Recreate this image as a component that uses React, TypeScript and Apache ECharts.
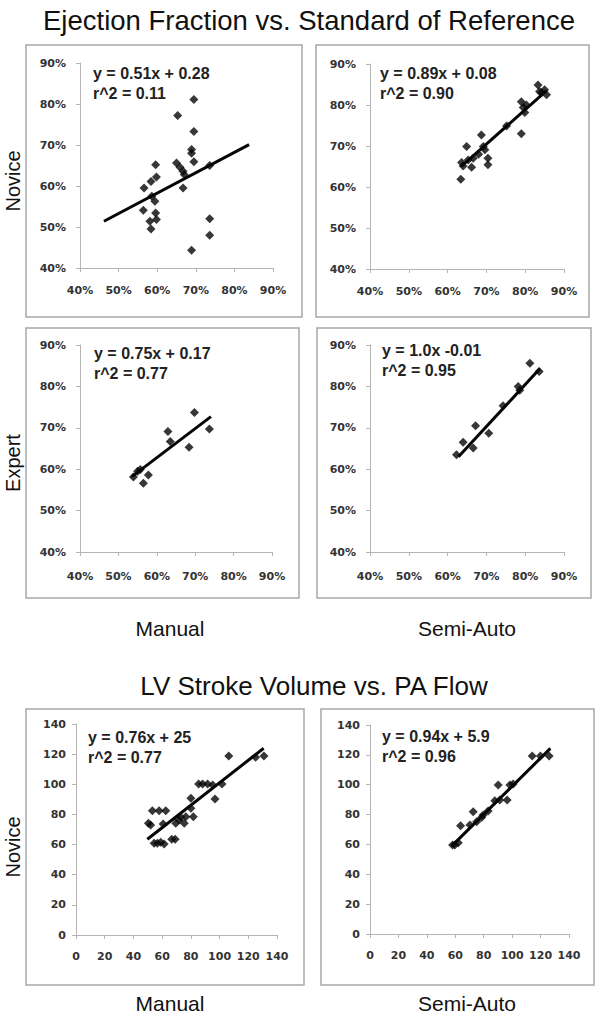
import React, { useEffect, useRef } from "react";
import * as echarts from "echarts";

// ---------- data ----------
const efTickMin = 40;
const efTickMax = 90;
const svTickMin = 0;
const svTickMax = 140;

const efNoviceManual = [
  [56.6, 59.5], [56.4, 54.1], [58.4, 61.1], [59.6, 65.2], [59.8, 62.2], [59.4, 56.3],
  [59.6, 53.4], [59.8, 51.8], [58.1, 51.4], [58.4, 49.5], [58.6, 57.5], [65.3, 77.2],
  [65.0, 65.6], [65.9, 64.6], [66.7, 63.6], [66.7, 59.5], [69.5, 81.1], [69.5, 73.3],
  [68.9, 68.9], [68.9, 68.0], [69.5, 65.9], [68.9, 44.3], [73.6, 65.0], [73.6, 52.0],
  [73.6, 48.0], [67.0, 62.8],
];
const efNoviceManualFit = [[46.2, 51.4], [83.8, 70.1]];

const efNoviceSemi = [
  [63.4, 61.9], [63.6, 66.0], [64.0, 65.1], [64.9, 69.9], [65.3, 66.6], [66.2, 64.8],
  [66.6, 67.0], [68.7, 72.7], [69.2, 69.9], [69.6, 69.1], [70.4, 67.0], [70.4, 65.4],
  [68.0, 68.0], [75.2, 74.9], [79.0, 73.0], [79.0, 80.8], [79.5, 79.4], [79.9, 78.2],
  [80.3, 80.0], [83.3, 84.9], [83.7, 83.3], [84.2, 83.0], [85.0, 83.7], [85.5, 82.5],
];
const efNoviceSemiFit = [[63.5, 65.0], [85.5, 83.5]];

const efExpertManual = [
  [53.9, 58.1], [55.0, 59.5], [55.7, 59.9], [56.5, 56.6], [57.8, 58.6],
  [62.9, 69.1], [63.5, 66.7], [68.4, 65.3], [69.8, 73.7], [73.7, 69.7],
];
const efExpertManualFit = [[53.5, 58.2], [74.1, 72.7]];

const efExpertSemi = [
  [62.3, 63.5], [64.0, 66.5], [66.6, 65.1], [67.2, 70.5], [70.6, 68.7],
  [74.3, 75.3], [78.2, 80.0], [78.6, 79.1], [81.2, 85.6], [83.6, 83.6],
];
const efExpertSemiFit = [[62.8, 63.0], [83.8, 84.3]];

const svNoviceManual = [
  [50.4, 74.1], [52.0, 73.0], [53.2, 82.5], [57.9, 82.5], [62.5, 82.5], [54.4, 60.8],
  [56.7, 60.8], [59.0, 61.5], [61.4, 60.4], [60.7, 73.7], [66.7, 63.5], [69.1, 63.5],
  [69.5, 74.1], [71.8, 76.3], [73.0, 78.1], [75.4, 74.1], [76.5, 78.5], [80.0, 84.1],
  [81.7, 78.5], [80.0, 90.7], [85.4, 100.2], [88.2, 100.2], [91.7, 100.2], [95.2, 99.6],
  [96.8, 90.3], [101.7, 100.2], [106.4, 118.8], [125.1, 117.9], [130.9, 118.8],
];
const svNoviceManualFit = [[49.7, 63.5], [130.7, 123.9]];

const svNoviceSemi = [
  [58.1, 59.6], [59.7, 59.6], [62.1, 61.2], [63.7, 72.5], [72.6, 81.9], [70.3, 73.0],
  [75.0, 75.2], [78.5, 78.1], [79.6, 79.7], [83.1, 82.4], [87.8, 89.3], [90.2, 99.8],
  [91.3, 89.7], [96.5, 89.7], [98.4, 99.8], [100.7, 100.4], [114.1, 119.2], [119.9, 119.2],
  [126.0, 119.2],
];
const svNoviceSemiFit = [[57.4, 58.9], [126.9, 124.3]];

const equations = [
  ["y = 0.51x + 0.28", "r^2 = 0.11"],
  ["y = 0.89x + 0.08", "r^2 = 0.90"],
  ["y = 0.75x + 0.17", "r^2 = 0.77"],
  ["y = 1.0x -0.01", "r^2 = 0.95"],
  ["y = 0.76x + 25", "r^2 = 0.77"],
  ["y = 0.94x + 5.9", "r^2 = 0.96"],
];

const titleTop = "Ejection Fraction vs. Standard of Reference";
const titleBottom = "LV Stroke Volume vs. PA Flow";
const rowLabels = ["Novice", "Expert", "Novice"];
const colLabels = ["Manual", "Semi-Auto"];

// ---------- layout ----------
const grids = [
  { left: 80, top: 63, width: 193, height: 205 },
  { left: 370, top: 64, width: 194, height: 205 },
  { left: 80, top: 345, width: 192, height: 207 },
  { left: 370, top: 345, width: 194, height: 207 },
  { left: 76, top: 724, width: 201, height: 211 },
  { left: 370, top: 725, width: 199, height: 209 },
];
const boxes = [
  { x: 26, y: 45, width: 276, height: 272 },
  { x: 316, y: 45, width: 273, height: 272 },
  { x: 26, y: 328, width: 273, height: 270 },
  { x: 317, y: 328, width: 274, height: 270 },
  { x: 26, y: 709, width: 278, height: 276 },
  { x: 321, y: 709, width: 273, height: 276 },
];
const eqPos = [
  [93, 73], [380, 73], [94, 353], [382, 350], [88, 737], [382, 736],
];
const xLabelMargin = [17, 17, 19, 19, 16, 16];

export default function App() {
  const ref = useRef<HTMLDivElement>(null);
  useEffect(() => {
    if (!ref.current) return;
    const chart = echarts.init(ref.current, undefined, { renderer: "svg" });
    const scatterSets = [efNoviceManual, efNoviceSemi, efExpertManual, efExpertSemi, svNoviceManual, svNoviceSemi];
    const fitSets = [efNoviceManualFit, efNoviceSemiFit, efExpertManualFit, efExpertSemiFit, svNoviceManualFit, svNoviceSemiFit];
    const axisLineStyle = { color: "#b5b5b5", width: 1 };
    const labelStyle = {
      color: "#333",
      fontFamily: "DejaVu Sans",
      fontWeight: "bold" as const,
      fontSize: 11,
    };
    const xAxis = grids.map((_, i) => {
      const isEF = i < 4;
      return {
        type: "value",
        gridIndex: i,
        min: isEF ? efTickMin : svTickMin,
        max: isEF ? efTickMax : svTickMax,
        interval: isEF ? 10 : 20,
        splitLine: { show: false },
        axisLine: { show: true, lineStyle: axisLineStyle },
        axisTick: { show: true, length: 4, lineStyle: axisLineStyle },
        axisLabel: {
          ...labelStyle,
          margin: xLabelMargin[i],
          formatter: isEF ? (v: number) => v + "%" : (v: number) => String(v),
        },
      };
    });
    const yAxis = grids.map((_, i) => {
      const isEF = i < 4;
      return {
        type: "value",
        gridIndex: i,
        min: isEF ? efTickMin : svTickMin,
        max: isEF ? efTickMax : svTickMax,
        interval: isEF ? 10 : 20,
        splitLine: { show: false },
        axisLine: { show: true, lineStyle: axisLineStyle },
        axisTick: { show: true, length: 4, lineStyle: axisLineStyle },
        axisLabel: {
          ...labelStyle,
          margin: isEF ? 14 : 10,
          formatter: isEF ? (v: number) => v + "%" : (v: number) => String(v),
        },
      };
    });
    const series: any[] = [];
    scatterSets.forEach((d, i) => {
      series.push({
        type: "scatter",
        xAxisIndex: i,
        yAxisIndex: i,
        data: d,
        symbol: "diamond",
        symbolSize: 9,
        itemStyle: { color: "#050505" },
        z: 3,
      });
      series.push({
        type: "line",
        xAxisIndex: i,
        yAxisIndex: i,
        data: fitSets[i],
        symbol: "none",
        lineStyle: { color: "#050505", width: 3 },
        z: 4,
      });
    });
    const graphics: any[] = [];
    boxes.forEach((b) => {
      graphics.push({
        type: "rect",
        shape: { x: b.x, y: b.y, width: b.width, height: b.height },
        style: { fill: "none", stroke: "#a8a8a8", lineWidth: 1.5 },
        z: -10,
      });
    });
    const bigText = (text: string, x: number, y: number, size: number, rotation = 0) => ({
      type: "text",
      x,
      y,
      rotation,
      style: {
        text,
        fill: "#111",
        font: `${size}px "Liberation Sans", Arial, sans-serif`,
        align: "center",
        verticalAlign: "middle",
      },
    });
    graphics.push(bigText(titleTop, 309, 20, 27.5));
    graphics.push(bigText(titleBottom, 314, 686, 26));
    graphics.push(bigText(rowLabels[0], 13, 181, 20, Math.PI / 2));
    graphics.push(bigText(rowLabels[1], 13, 463, 20, Math.PI / 2));
    graphics.push(bigText(rowLabels[2], 13, 847, 20, Math.PI / 2));
    graphics.push(bigText(colLabels[0], 170, 628, 21));
    graphics.push(bigText(colLabels[1], 467, 628, 21));
    graphics.push(bigText(colLabels[0], 170, 1003, 21));
    graphics.push(bigText(colLabels[1], 467, 1003, 21));
    equations.forEach((eq, i) => {
      eq.forEach((line, j) => {
        graphics.push({
          type: "text",
          x: eqPos[i][0],
          y: eqPos[i][1] + j * 20,
          style: {
            text: line,
            fill: "#222",
            font: `bold 16px "Liberation Sans", Arial, sans-serif`,
            align: "left",
            verticalAlign: "middle",
          },
        });
      });
    });
    chart.setOption({
      animation: false,
      backgroundColor: "#ffffff",
      grid: grids.map((g) => ({ ...g, containLabel: false, outerBoundsMode: "none" })),
      xAxis,
      yAxis,
      series,
      graphic: graphics,
    });
    return () => chart.dispose();
  }, []);
  return (
    <div
      ref={ref}
      style={{ position: "fixed", left: 0, top: 0, width: 600, height: 1021, background: "#fff" }}
    />
  );
}
